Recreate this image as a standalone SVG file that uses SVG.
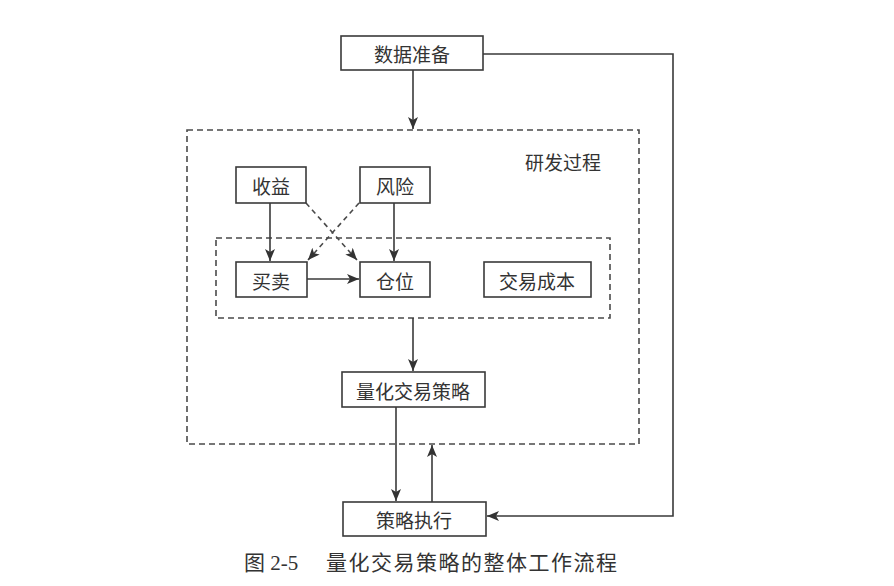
<svg xmlns="http://www.w3.org/2000/svg" width="894" height="586" viewBox="0 0 894 586">
<style>
.box{fill:#fff;stroke:#3a3a3a;stroke-width:1.6}
.grp{fill:none;stroke:#4a4a4a;stroke-width:1.6;stroke-dasharray:6 4}
.lbl{font-family:"Noto Sans CJK SC","Liberation Serif",sans-serif;font-size:19px;fill:#333;text-anchor:middle;dominant-baseline:central}
.ln{fill:none;stroke:#3a3a3a;stroke-width:1.6}
.dl{fill:none;stroke:#4a4a4a;stroke-width:1.6;stroke-dasharray:5 4}
.cap{font-family:"Liberation Serif","Noto Sans CJK SC",serif;font-size:21px;fill:#333;dominant-baseline:central}
</style>
<defs>
<marker id="ah" viewBox="0 0 12 10" refX="12" refY="5" markerWidth="12" markerHeight="10" markerUnits="userSpaceOnUse" orient="auto">
<path d="M0,0 L12,5 L0,10 L3,5 z" fill="#333"/>
</marker>
</defs>
<rect width="894" height="586" fill="#fff"/>
<g id="group-research">
<rect class="grp" x="187" y="130" width="452" height="314"/>
<text class="lbl" x="563" y="161">研发过程</text>
</g>
<g id="group-inner">
<rect class="grp" x="216" y="238" width="394" height="80"/>
</g>
<g id="connectors">
<line class="ln" x1="413" y1="70" x2="413" y2="129" marker-end="url(#ah)"/>
<polyline class="ln" points="483,54 673,54 673,516 487,516" marker-end="url(#ah)"/>
<line class="ln" x1="270" y1="203" x2="270" y2="261" marker-end="url(#ah)"/>
<line class="ln" x1="394" y1="203" x2="394" y2="261" marker-end="url(#ah)"/>
<line class="dl" x1="306" y1="203" x2="357" y2="260" marker-end="url(#ah)"/>
<line class="dl" x1="359" y1="203" x2="308" y2="260" marker-end="url(#ah)"/>
<line class="ln" x1="307" y1="279" x2="359" y2="279" marker-end="url(#ah)"/>
<line class="ln" x1="413" y1="318" x2="413" y2="371" marker-end="url(#ah)"/>
<line class="ln" x1="396" y1="407" x2="396" y2="501" marker-end="url(#ah)"/>
<line class="ln" x1="432" y1="502" x2="432" y2="445" marker-end="url(#ah)"/>
</g>
<g id="node-data"><rect class="box" x="341" y="36" width="142" height="34"/><text class="lbl" x="412" y="53">数据准备</text></g>
<g id="node-return"><rect class="box" x="236" y="167" width="70" height="36"/><text class="lbl" x="271" y="185">收益</text></g>
<g id="node-risk"><rect class="box" x="360" y="167" width="70" height="36"/><text class="lbl" x="395" y="185">风险</text></g>
<g id="node-trade"><rect class="box" x="236" y="262" width="71" height="35"/><text class="lbl" x="271" y="280">买卖</text></g>
<g id="node-position"><rect class="box" x="360" y="262" width="70" height="35"/><text class="lbl" x="395" y="280">仓位</text></g>
<g id="node-cost"><rect class="box" x="484" y="262" width="107" height="35"/><text class="lbl" x="537" y="280">交易成本</text></g>
<g id="node-strategy"><rect class="box" x="342" y="372" width="143" height="35"/><text class="lbl" x="413" y="390">量化交易策略</text></g>
<g id="node-exec"><rect class="box" x="343" y="502" width="143" height="34"/><text class="lbl" x="414" y="519">策略执行</text></g>
<g id="caption">
<text class="cap" x="244" y="563">图 2-5</text>
<text class="cap" x="326" y="563" textLength="291" lengthAdjust="spacing">量化交易策略的整体工作流程</text>
</g>
</svg>
